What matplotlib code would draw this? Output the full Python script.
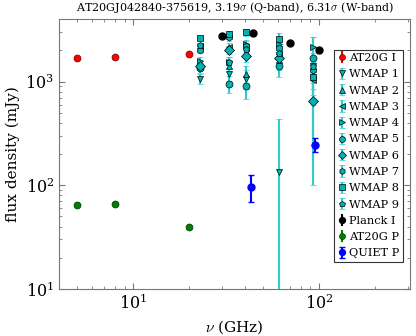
import matplotlib
matplotlib.use("Agg")
import matplotlib.pyplot as plt
import numpy as np

plt.rcParams['font.family'] = ['DejaVu Serif']
plt.rcParams['mathtext.fontset'] = 'cm'

# AT20G total intensity / polarization
at20g_freq = [5.0, 8.0, 20.0]
at20g_I = [1675, 1740, 1845]
at20g_I_err = [40, 40, 45]
at20g_P = [65, 66, 39.5]
at20g_P_err = [1.5, 1.5, 1.5]

# WMAP (K, Ka, Q, V, W)
wmap_freq = [22.8, 33.0, 40.7, 60.8, 93.5]
wmap1 = [1060, 1185, 1060, 133, 1425]
wmap1_err = [120, 180, 220, 300, 450]
wmap2 = [1480, 1425, 1185, 1620, 1185]
wmap2_err = [130, 180, 220, 330, 450]
wmap3 = [2220, 2170, 2110, 1850, 1040]
wmap3_err = [140, 190, 240, 330, 450]
wmap4 = [1590, 1530, 2300, 2300, 2170]
wmap4_err = [130, 190, 240, 350, 500]
wmap5 = [1343, 950, 900, 1425, 1690]
wmap5_err = [120, 170, 220, 330, 500]
wmap6 = [1400, 2020, 1780, 1700, 645]
wmap6_err = [120, 190, 230, 330, 400]
wmap7 = [2020, 2670, 2200, 2110, 1300]
wmap7_err = [130, 200, 240, 350, 450]
wmap8 = [2630, 2870, 2980, 2570, 1100]
wmap8_err = [140, 200, 250, 350, 450]
wmap9 = [2250, 1550, 2050, 1900, 1400]
wmap9_err = [130, 190, 240, 340, 1300]

# Planck intensity
planck_freq = [30.0, 44.0, 70.0, 100.0]
planck_I = [2730, 2940, 2335, 2030]
planck_I_err = [40, 50, 50, 40]

# QUIET polarization
quiet_freq = [43.0, 95.0]
quiet_P = [97, 246]
quiet_P_err = [28, 38]

fig = plt.figure(figsize=(4.16, 3.36), dpi=100)
ax = fig.add_axes([0.142, 0.140, 0.844, 0.803])
ax.set_xscale('log')
ax.set_yscale('log')

ms = 5
ax.errorbar(at20g_freq, at20g_I, yerr=at20g_I_err, fmt='o', color='red',
            mec='#700000', mew=0.5, ms=ms, label='AT20G I')

wmap_sets = [
    (wmap1, wmap1_err, 'v', 'WMAP 1'),
    (wmap2, wmap2_err, '^', 'WMAP 2'),
    (wmap3, wmap3_err, '<', 'WMAP 3'),
    (wmap4, wmap4_err, '>', 'WMAP 4'),
    (wmap5, wmap5_err, 'o', 'WMAP 5'),
    (wmap6, wmap6_err, 'D', 'WMAP 6'),
    (wmap7, wmap7_err, 'h', 'WMAP 7'),
    (wmap8, wmap8_err, 's', 'WMAP 8'),
    (wmap9, wmap9_err, 'p', 'WMAP 9'),
]
for vals, errs, mk, lab in wmap_sets:
    ax.errorbar(wmap_freq, vals, yerr=errs, fmt=mk, color='#00b3b3',
                ecolor='#33cccc', elinewidth=1.5, mec='black', mew=0.5,
                ms=ms, capsize=2.5, label=lab)

ax.errorbar(planck_freq, planck_I, yerr=planck_I_err, fmt='o', color='black',
            ms=ms, label='Planck I')
ax.errorbar(at20g_freq, at20g_P, yerr=at20g_P_err, fmt='o', color='green',
            mec='#003000', mew=0.5, ms=ms, label='AT20G P')
ax.errorbar(quiet_freq, quiet_P, yerr=quiet_P_err, fmt='o', color='blue',
            elinewidth=1.5, capsize=2.5, ms=ms, label='QUIET P')

ax.set_xlim(4.0, 310)
ax.set_ylim(10, 4000)

for sp in ax.spines.values():
    sp.set_color('#777777')
ax.tick_params(which='both', direction='in', top=True, right=True,
               color='#777777', labelsize=11.5)
ax.tick_params(which='major', length=4)
ax.tick_params(which='minor', length=2)

ax.set_xlabel(r'$\nu$ (GHz)', fontsize=11)
ax.set_ylabel('flux density (mJy)', fontsize=11)
ax.set_title(r'AT20GJ042840-375619, 3.19$\sigma$ (Q-band), 6.31$\sigma$ (W-band)',
             fontsize=8)

leg = ax.legend(loc='upper right', bbox_to_anchor=(0.985, 0.895), fontsize=8.2,
                numpoints=1, fancybox=False, handletextpad=0.2,
                borderpad=0.3, labelspacing=0.55, handlelength=0.8,
                borderaxespad=0.2, markerscale=0.85)
leg.get_frame().set_edgecolor('black')
leg.get_frame().set_linewidth(0.8)

fig.savefig('out.png', dpi=100)
